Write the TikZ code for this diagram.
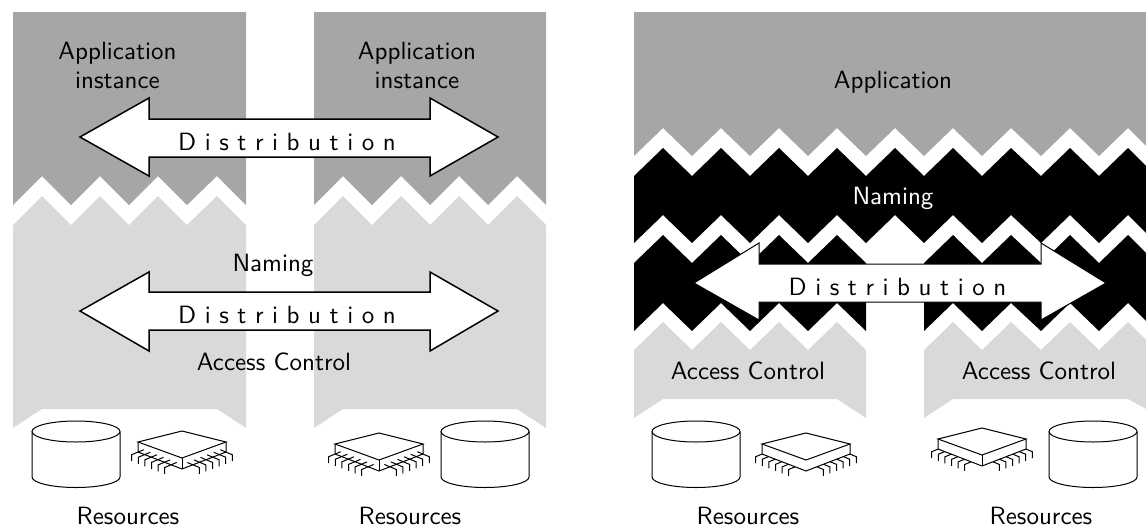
\documentclass[tikz,border=0pt]{standalone}
\usepackage{tikz}
\renewcommand{\familydefault}{\sfdefault}

\definecolor{appgray}{HTML}{A6A6A6}
\definecolor{accessgray}{HTML}{D9D9D9}

\newcommand{\widespaces}{\spaceskip 3.43pt\relax}

\tikzset{
  apparea/.style={fill=appgray},
  accessarea/.style={fill=accessgray},
  namingarea/.style={fill=black},
  distarrow/.style={draw, semithick, fill=white},
  lab/.style={anchor=base, inner sep=0pt},
  distlab/.style={lab, font=\widespaces},
  chipline/.style={draw, line width=0.4pt},
}

% pins of a chip, #1 = x of the back corner, #2 = y of the back corner
\newcommand{\chippins}[2]{
  \foreach \d in {5.7,12.3,18.9,25.5,32.1,38.7} {
    \draw[chipline] ({#1-44+\d},{#2+16.5+\d*17/44}) -- ++(-12,5) -- ++(0,6.5);
    \draw[chipline] ({#1+44-\d},{#2+16.5+\d*17/44}) -- ++(12,5) -- ++(0,6.5);
  }
}
% body of a chip without the front edge
\newcommand{\chipbody}[2]{
  \path[fill=white] (#1-44,#2+11) -- (#1,#2) -- (#1+44,#2+11) -- (#1+44,#2+21) -- (#1,#2+38) -- (#1-44,#2+21) -- cycle;
  \draw[chipline] (#1-44,#2+11) -- (#1,#2) -- (#1+44,#2+11) -- (#1,#2+27) -- cycle;
  \draw[chipline] (#1-44,#2+11) -- (#1-44,#2+21) -- (#1,#2+38) -- (#1+44,#2+21) -- (#1+44,#2+11);
}
\newcommand{\disk}[1]{
  \draw[chipline, fill=white] (#1-44,431.5) -- (#1-44,477) arc[start angle=180, end angle=360, x radius=44, y radius=-10.5] -- (#1+44,431.5);
  \draw[chipline, fill=white] (#1,431.5) ellipse[x radius=44, y radius=10.5];
}

\begin{document}
\begin{tikzpicture}[x=0.4pt, y=-0.4pt]
\useasboundingbox (0,0) rectangle (1146,527);

% left side, application instances
\path[apparea] (13,12) -- (246,12) -- (246,205) -- (217,176) -- (187,205) -- (158,176) -- (129,205) -- (100,176) -- (71,205) -- (42,176) -- (13,205) -- cycle;
\path[apparea] (314,12) -- (546,12) -- (546,205) -- (517,176) -- (488,205) -- (459,176) -- (430,205) -- (401,176) -- (372,205) -- (343,176) -- (314,205) -- cycle;

% left side, naming and access control
\path[accessarea] (13,225) -- (42,196) -- (71,225) -- (100,196) -- (129,225) -- (158,196) -- (187,225) -- (217,196) -- (246,225) -- (246,428) -- (217,409) -- (42,409) -- (13,428) -- cycle;
\path[accessarea] (314,225) -- (343,196) -- (372,225) -- (401,196) -- (430,225) -- (459,196) -- (488,225) -- (517,196) -- (546,225) -- (546,428) -- (517,409) -- (343,409) -- (314,428) -- cycle;

% right side, application
\path[apparea] (634,12) -- (1146,12) -- (1146,146) -- (1128,128) -- (1099,156) -- (1070,128) -- (1041,156) -- (1011,128) -- (982,156) -- (953,128) -- (924,156) -- (895,128) -- (866,156) -- (837,128) -- (808,156) -- (779,128) -- (750,156) -- (721,128) -- (692,156) -- (663,128) -- (634,156) -- cycle;

% right side, naming
\path[namingarea] (634,176) -- (663,148) -- (692,176) -- (721,148) -- (750,176) -- (779,148) -- (808,176) -- (837,148) -- (866,176) -- (895,148) -- (924,176) -- (953,148) -- (982,176) -- (1011,148) -- (1041,176) -- (1070,148) -- (1099,176) -- (1128,148) -- (1146,166) -- (1146,233) -- (1128,215) -- (1099,243) -- (1070,215) -- (1041,243) -- (1011,215) -- (982,243) -- (953,215) -- (924,243) -- (895,215) -- (866,243) -- (837,215) -- (808,243) -- (779,215) -- (750,243) -- (721,215) -- (692,243) -- (663,215) -- (634,243) -- cycle;
\path[namingarea] (634,263) -- (663,235) -- (692,263) -- (721,235) -- (750,263) -- (779,235) -- (808,263) -- (837,235) -- (866,263) -- (866,331) -- (837,303) -- (808,331) -- (779,303) -- (750,331) -- (721,303) -- (692,331) -- (663,303) -- (634,331) -- cycle;
\path[namingarea] (924,263) -- (953,235) -- (982,263) -- (1011,235) -- (1041,263) -- (1070,235) -- (1099,263) -- (1128,235) -- (1146,253) -- (1146,321) -- (1128,303) -- (1099,331) -- (1070,303) -- (1041,331) -- (1011,303) -- (982,331) -- (953,303) -- (924,331) -- cycle;

% right side, access control
\path[accessarea] (634,350) -- (663,322) -- (692,350) -- (721,322) -- (750,350) -- (779,322) -- (808,350) -- (837,322) -- (866,350) -- (866,418) -- (837,399) -- (663,399) -- (634,418) -- cycle;
\path[accessarea] (924,350) -- (953,322) -- (982,350) -- (1011,322) -- (1041,350) -- (1070,322) -- (1099,350) -- (1128,322) -- (1146,340) -- (1146,409) -- (1128,399) -- (953,399) -- (924,418) -- cycle;

% arrows
\draw[distarrow] (80,137) -- (149,98) -- (149,119) -- (430,119) -- (430,98) -- (498,137) -- (430,176) -- (430,157) -- (149,157) -- (149,176) -- cycle;
\draw[distarrow] (80,311) -- (149,272) -- (149,292) -- (430,292) -- (430,272) -- (498,311) -- (430,351) -- (430,330) -- (149,330) -- (149,351) -- cycle;
\draw[distarrow, thin] (694,283) -- (759,243) -- (759,264) -- (1041,264) -- (1041,243) -- (1106,283) -- (1041,320) -- (1041,302) -- (759,302) -- (759,320) -- cycle;

% labels
\node[lab] (app1) at (117.5,59) {Application};
\node[lab] (inst1) at (117.5,88) {instance};
\node[lab] (app2) at (417,59) {Application};
\node[lab] (inst2) at (417,88) {instance};
\node[lab] (app3) at (893,88) {Application};
\node[distlab] (dist1) at (287,150) {D i s t r i b u t i o n};
\node[distlab] (dist2) at (287,323) {D i s t r i b u t i o n};
\node[distlab] (dist3) at (897.5,295) {D i s t r i b u t i o n};
\node[lab] (naming1) at (273,271) {Naming};
\node[lab, white] (naming2) at (893,204) {Naming};
\node[lab] (access1) at (274,370) {Access Control};
\node[lab] (access2) at (748,379) {Access Control};
\node[lab] (access3) at (1039,379) {Access Control};
\node[lab] (res1) at (128,524) {Resources};
\node[lab] (res2) at (410,524) {Resources};
\node[lab] (res3) at (748,524) {Resources};
\node[lab] (res4) at (1041,524) {Resources};

% resources
\disk{76}
\disk{485}
\disk{696}
\disk{1093}

\chipbody{182}{431}
\chippins{182}{431}
\draw[chipline] (182,458) -- (182,469);
\chipbody{379}{433}
\chippins{379}{433}
\draw[chipline] (379,460) -- (379,471);
\chippins{806}{433}
\chipbody{806}{433}
\chippins{982}{428}
\chipbody{982}{428}
\draw[chipline] (982,455) -- (982,466);
\end{tikzpicture}
\end{document}
